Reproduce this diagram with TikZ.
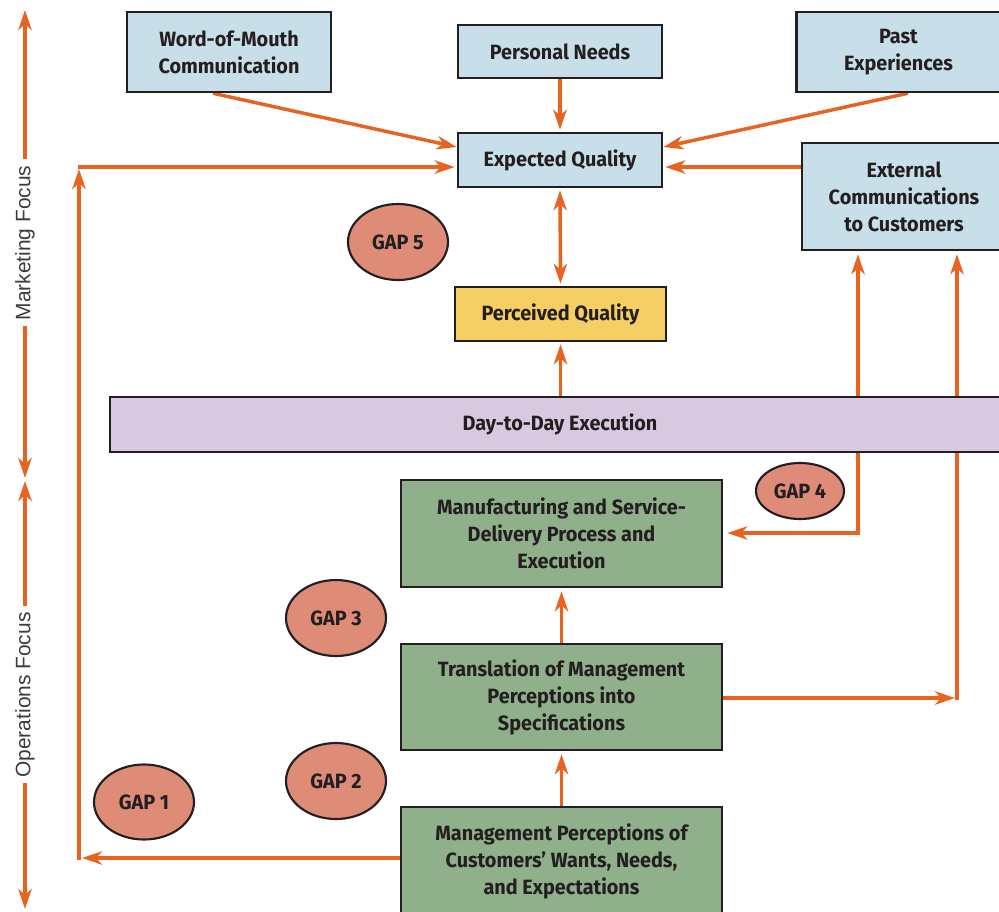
\documentclass[tikz,border=0pt]{standalone}
\usepackage{fontspec}
\usetikzlibrary{arrows.meta,shapes.geometric,calc,backgrounds}
\newfontfamily\labelfont[FakeStretch=0.96]{Fira Sans}
\newfontfamily\sidefont{Liberation Sans}
\definecolor{flow}{RGB}{232,98,32}
\definecolor{edge}{RGB}{35,31,32}
\definecolor{skyfill}{RGB}{200,222,232}
\definecolor{goldfill}{RGB}{245,206,100}
\definecolor{lilacfill}{RGB}{216,201,224}
\definecolor{sagefill}{RGB}{143,176,138}
\definecolor{gapfill}{RGB}{222,139,120}
\definecolor{sidetext}{RGB}{60,60,60}
\def\px{0.75pt}
\tikzset{
  box/.style={draw=edge, line width=1.9pt, rectangle, align=center, inner sep=0pt,
    text=edge, font=\labelfont\bfseries\fontsize{15.5}{20.25}\selectfont},
  gapnode/.style={draw=edge, line width=1.6pt, ellipse, inner sep=0pt,
    fill=gapfill, text=edge, font=\labelfont\bfseries\fontsize{15.5}{18}\selectfont},
  arr/.style={draw=flow, line width=2.6pt,
    -{Stealth[length=15pt, width=10pt, inset=4.5pt]}},
  arrboth/.style={draw=flow, line width=2.6pt,
    {Stealth[length=15pt, width=10pt, inset=4.5pt]}-{Stealth[length=15pt, width=10pt, inset=4.5pt]}},
  sidelabel/.style={rotate=90, inner sep=0pt, text=sidetext,
    font=\sidefont\fontsize{15.7}{18}\selectfont},
}
\begin{document}
\begin{tikzpicture}[x=0.75pt, y=-0.75pt]
\useasboundingbox (0,0) rectangle (999,911);

% --- customer side ---
\node[box, fill=skyfill, minimum width=204*\px, minimum height=80*\px] (wom) at (229,52)
  {Word-of-Mouth\\Communication};
\node[box, fill=skyfill, minimum width=204*\px, minimum height=53*\px] (needs) at (560,51.5)
  {Personal Needs};
\node[box, fill=skyfill, minimum width=204*\px, minimum height=80*\px] (past) at (898.5,52)
  {Past\\Experiences};
\node[box, fill=skyfill, minimum width=204*\px, minimum height=54*\px] (eq) at (560,160)
  {Expected Quality};
\node[box, fill=skyfill, minimum width=204*\px, minimum height=107*\px] (ext) at (904,196.5)
  {External\\Communications\\to Customers};
\node[box, fill=goldfill, minimum width=211*\px, minimum height=54*\px] (pq) at (560.5,314)
  {Perceived Quality};
\node[box, fill=lilacfill, minimum width=900*\px, minimum height=55*\px] (day) at (560,424.5)
  {Day-to-Day Execution};

% --- provider side ---
\node[box, fill=sagefill, minimum width=321*\px, minimum height=107*\px] (mfg) at (561.5,533.5)
  {Manufacturing and Service-\\Delivery Process and\\Execution};
\node[box, fill=sagefill, minimum width=321*\px, minimum height=106*\px] (trans) at (561.5,697)
  {Translation of Management\\Perceptions into\\Speci{}fications};
\node[box, fill=sagefill, minimum width=321*\px, minimum height=108*\px] (mp) at (561.5,861)
  {Management Perceptions of\\Customers’ Wants, Needs,\\and Expectations};

% --- gaps ---
\node[gapnode, minimum width=100*\px, minimum height=76*\px] (gap5) at (398,242) {GAP 5};
\node[gapnode, minimum width=88*\px, minimum height=56*\px] (gap4) at (800,491) {GAP 4};
\node[gapnode, minimum width=100*\px, minimum height=76*\px] (gap3) at (336,618) {GAP 3};
\node[gapnode, minimum width=100*\px, minimum height=76*\px] (gap2) at (336,781) {GAP 2};
\node[gapnode, minimum width=100*\px, minimum height=75*\px] (gap1) at (144,802) {GAP 1};

% --- focus scale on the left ---
\node[sidelabel] (mkt) at (25,243) {Marketing Focus};
\node[sidelabel] (ops) at (25,695) {Operations Focus};
\coordinate (mktTop) at (25,10);
\coordinate (mktBot) at (25,478);
\coordinate (opsTop) at (25,481);
\coordinate (opsBot) at (25,909);

% --- junction points ---
\coordinate (loopB) at (79,858);
\coordinate (loopBs) at (79,859.5);
\coordinate (loopT) at (79,169);
\coordinate (loopC) at (77.5,167);
\coordinate (j4) at (858,533);
\coordinate (j4s) at (858,534.5);
\coordinate (j1) at (957,698);
\coordinate (j1s) at (957,699.5);

\begin{scope}[on background layer]
  \fill[white] (0,0) rectangle (999,911);
  \draw[arr] ([xshift=-16*\px]wom.south) -- ([yshift=13*\px]eq.west);
  \draw[arr, shorten >=2*\px] (needs.south) -- (eq.north);
  \draw[arr] ([xshift=9.5*\px]past.south) -- ([yshift=13*\px]eq.east);
  \draw[arr, shorten >=2*\px] ([yshift=-7*\px]eq.east -| ext.west) -- ([yshift=-7*\px]eq.east);
  \draw[arrboth, shorten <=2*\px, shorten >=2*\px] (eq.south) -- (pq.north);
  \draw[arr, shorten >=2*\px] (pq.south |- day.north) -- (pq.south);

  % gap 1 loop
  \draw[arr, shorten >=3*\px] (mp.west |- loopB) -- (loopB);
  \draw[arr] (loopBs) -- (loopT);
  \draw[arr, shorten >=2*\px] (loopC) -- ([yshift=-7*\px]eq.west);

  % gap 4 and right-hand loop
  \draw[arr, shorten >=4*\px] (j4) -- (j4 -| mfg.east);
  \draw[arr, shorten >=3*\px] (j4s) -- (j4 |- ext.south);
  \draw[arr, shorten >=2*\px] (j1 -| trans.east) -- (j1);
  \draw[arr, shorten >=3*\px] (j1s) -- (j1 |- ext.south);

  % provider chain
  \draw[arr, shorten >=3*\px] (trans.north) -- (mfg.south);
  \draw[arr, shorten >=3*\px] (mp.north) -- (trans.south);

  % focus scale
  \draw[arr] ([yshift=6*\px]mkt.east) -- (mktTop);
  \draw[arr] ([yshift=-5*\px]mkt.west) -- (mktBot);
  \draw[arr] ([yshift=6*\px]ops.east) -- (opsTop);
  \draw[arr] ([yshift=-5*\px]ops.west) -- (opsBot);
\end{scope}
\end{tikzpicture}
\end{document}
